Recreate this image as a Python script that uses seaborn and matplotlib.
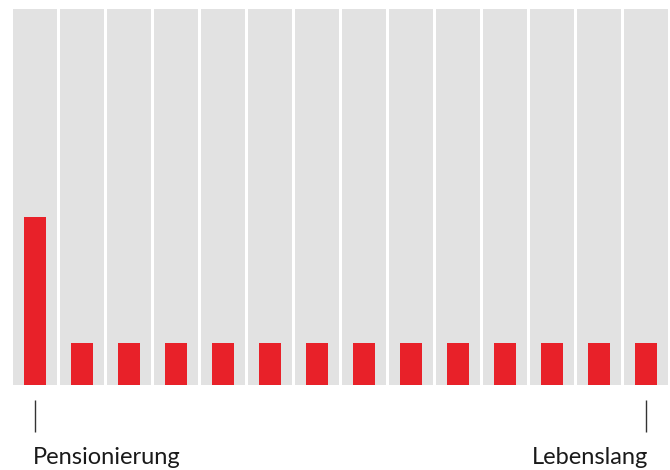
import numpy as np
import pandas as pd
import seaborn as sns
import matplotlib.pyplot as plt
import matplotlib.transforms as mtransforms

# Data
periods = [f"P{i + 1}" for i in range(14)]
background = [100] * 14
values = [44.7] + [11.2] * 13
label_left = "Pensionierung"
label_right = "Lebenslang"

df = pd.DataFrame({"period": periods, "background": background, "value": values})

sns.set_style("white")
plt.rcParams["font.family"] = ["Lato", "DejaVu Sans"]

fig = plt.figure(figsize=(6.7, 4.7), dpi=100)
ax = fig.add_axes([0, 85 / 470, 1, 376 / 470])

sns.barplot(data=df, x="period", y="background", color="#e2e2e2", width=44 / 47,
            saturation=1, linewidth=0, ax=ax)
sns.barplot(data=df, x="period", y="value", color="#e82129", width=22 / 47,
            saturation=1, linewidth=0, ax=ax)

ax.set_xlim(-35 / 47, (670 - 35) / 47)
ax.set_ylim(0, 100)
ax.set_xlabel("")
ax.set_ylabel("")
ax.set_xticks([])
ax.set_yticks([])
sns.despine(ax=ax, left=True, bottom=True)

trans = mtransforms.blended_transform_factory(ax.transData, ax.transAxes)
ax.vlines([0, len(periods) - 1], -47 / 376, -15 / 376, color="#333333",
          linewidth=1, transform=trans, clip_on=False)
ax.text(-2 / 47, -79 / 376, label_left, ha="left", va="baseline", fontsize=17,
        color="#1a1a1a", transform=trans)
ax.text(len(periods) - 1 + 2 / 47, -79 / 376, label_right, ha="right", va="baseline",
        fontsize=17, color="#1a1a1a", transform=trans)

fig.savefig("out.png", dpi=100)
